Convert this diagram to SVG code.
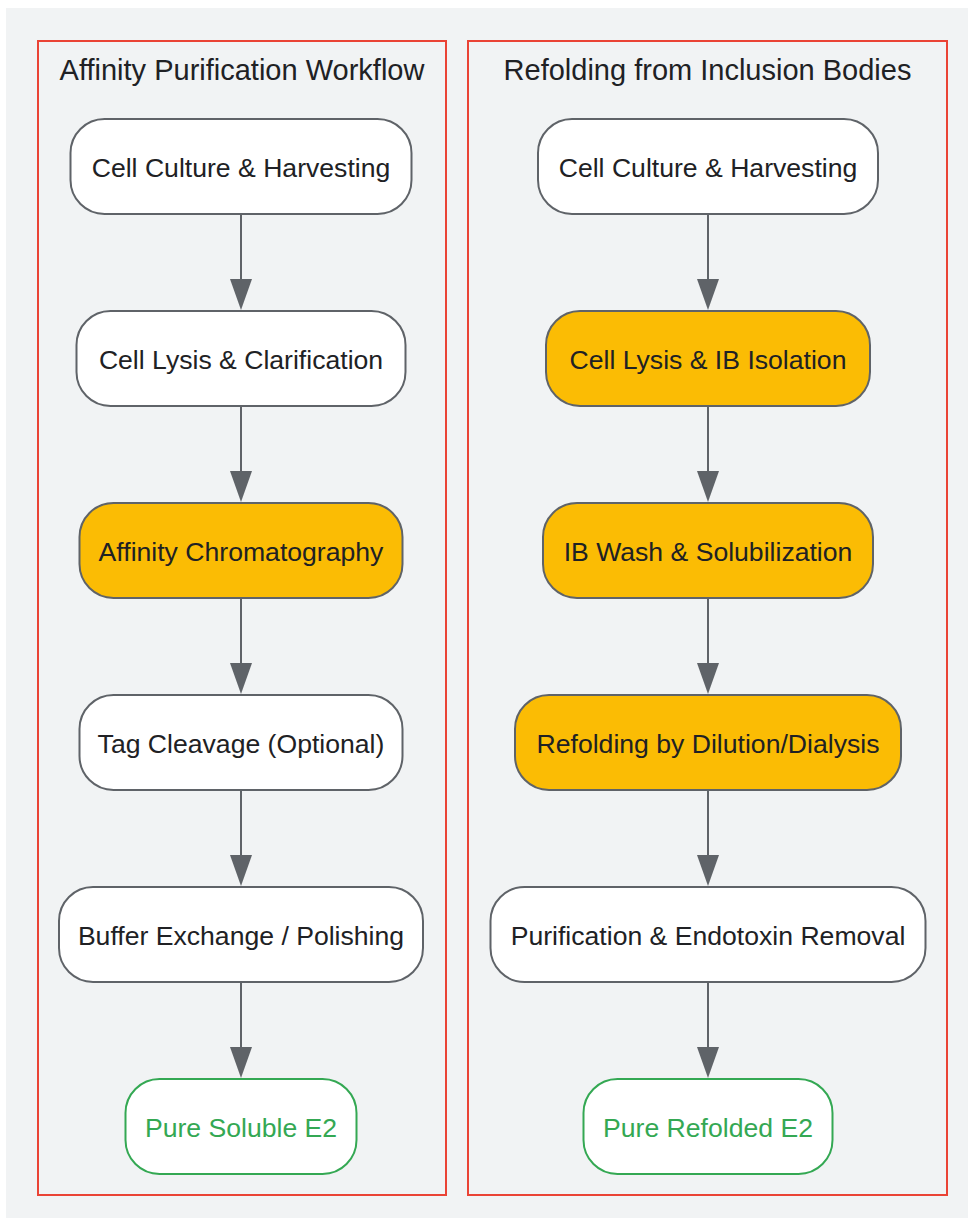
<svg xmlns="http://www.w3.org/2000/svg" width="968" height="1218" viewBox="0 0 968 1218">
<defs>
<marker id="arr" viewBox="0 0 31 22" refX="0" refY="11" markerWidth="31" markerHeight="22" markerUnits="userSpaceOnUse" orient="auto">
<path d="M0,0 L31,11 L0,22 z" fill="#5f6368"/>
</marker>
<style>
.bg{fill:#f1f3f4}
.cl{fill:none;stroke:#ea4335;stroke-width:2}
.ct{font-family:"Liberation Sans",Arial,sans-serif;font-size:29px;fill:#202124;text-anchor:middle}
.n rect{fill:#ffffff;stroke:#5f6368;stroke-width:2}
.n.y rect{fill:#fbbc04}
.n.g rect{stroke:#34a853}
.n text{font-family:"Liberation Sans",Arial,sans-serif;font-size:26.6px;fill:#202124;text-anchor:middle}
.n.g text{fill:#34a853}
.e line{stroke:#5f6368;stroke-width:2;marker-end:url(#arr)}
</style>
</defs>
<rect class="bg" x="6" y="8" width="962" height="1210"/>
<g id="cluster-affinity">
<rect class="cl" x="38" y="41" width="408" height="1154"/>
<text class="ct" x="242" y="79.5">Affinity Purification Workflow</text>
</g>
<g id="cluster-refolding">
<rect class="cl" x="468" y="41" width="479" height="1154"/>
<text class="ct" x="707.5" y="79.5">Refolding from Inclusion Bodies</text>
</g>
<g id="edges" class="e">
<line x1="241" y1="215" x2="241" y2="279"/>
<line x1="241" y1="407" x2="241" y2="471"/>
<line x1="241" y1="599" x2="241" y2="663"/>
<line x1="241" y1="791" x2="241" y2="855"/>
<line x1="241" y1="983" x2="241" y2="1047"/>
<line x1="708" y1="215" x2="708" y2="279"/>
<line x1="708" y1="407" x2="708" y2="471"/>
<line x1="708" y1="599" x2="708" y2="663"/>
<line x1="708" y1="791" x2="708" y2="855"/>
<line x1="708" y1="983" x2="708" y2="1047"/>
</g>
<g id="A1" class="n"><rect x="70.5" y="119" width="341" height="95" rx="34"/><text x="241" y="177">Cell Culture &amp; Harvesting</text></g>
<g id="A2" class="n"><rect x="76.5" y="311" width="329" height="95" rx="34"/><text x="241" y="369">Cell Lysis &amp; Clarification</text></g>
<g id="A3" class="n y"><rect x="79.5" y="503" width="323" height="95" rx="34"/><text x="241" y="561">Affinity Chromatography</text></g>
<g id="A4" class="n"><rect x="79.5" y="695" width="323" height="95" rx="34"/><text x="241" y="753">Tag Cleavage (Optional)</text></g>
<g id="A5" class="n"><rect x="59" y="887" width="364" height="95" rx="34"/><text x="241" y="945">Buffer Exchange / Polishing</text></g>
<g id="A6" class="n g"><rect x="125.5" y="1079" width="231" height="95" rx="34"/><text x="241" y="1137">Pure Soluble E2</text></g>
<g id="B1" class="n"><rect x="538" y="119" width="340" height="95" rx="34"/><text x="708" y="177">Cell Culture &amp; Harvesting</text></g>
<g id="B2" class="n y"><rect x="546" y="311" width="324" height="95" rx="34"/><text x="708" y="369">Cell Lysis &amp; IB Isolation</text></g>
<g id="B3" class="n y"><rect x="543" y="503" width="330" height="95" rx="34"/><text x="708" y="561">IB Wash &amp; Solubilization</text></g>
<g id="B4" class="n y"><rect x="515" y="695" width="386" height="95" rx="34"/><text x="708" y="753">Refolding by Dilution/Dialysis</text></g>
<g id="B5" class="n"><rect x="490.5" y="887" width="435" height="95" rx="34"/><text x="708" y="945">Purification &amp; Endotoxin Removal</text></g>
<g id="B6" class="n g"><rect x="583.5" y="1079" width="249" height="95" rx="34"/><text x="708" y="1137">Pure Refolded E2</text></g>
</svg>
